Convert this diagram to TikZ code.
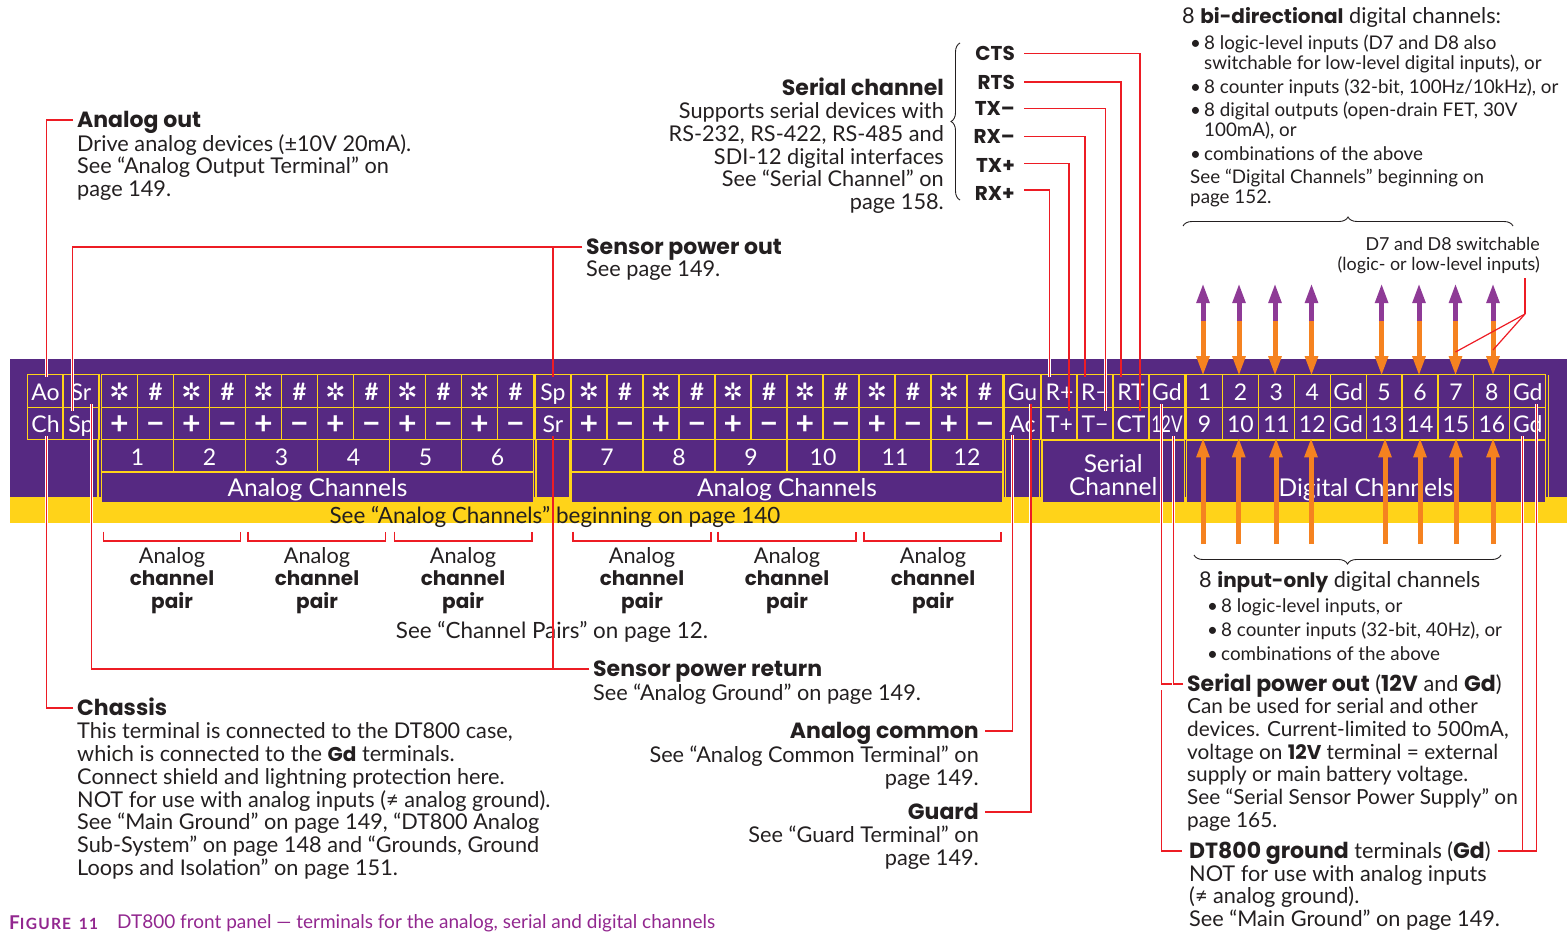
\documentclass[tikz,border=0pt]{standalone}
\usepackage{fontspec}
\setmainfont{Lato}
\newfontfamily\hdfont{Poppins}
\newfontfamily\symfont{DejaVu Sans}
\usetikzlibrary{arrows.meta, calc, decorations.pathreplacing}
\definecolor{panelpurple}{HTML}{562982}
\definecolor{panelyellow}{HTML}{FFD319}
\definecolor{leaderred}{HTML}{ED1C24}
\definecolor{arroworange}{HTML}{F58220}
\definecolor{arrowpurple}{HTML}{8E3A96}
\definecolor{inkdark}{HTML}{231F20}
\definecolor{capmagenta}{HTML}{92278F}
\newcommand{\txtsize}{\fontsize{21.7}{22.8}\selectfont}
\newcommand{\narrowsize}{\fontsize{20.8}{22.8}\selectfont}
\newcommand{\smallsize}{\fontsize{18.8}{20}\selectfont}
\newcommand{\capsize}{\fontsize{19}{20}\selectfont}
\newcommand{\hb}[1]{{\hdfont\bfseries\fontsize{20}{22.6}\selectfont #1}}
\newcommand{\hbb}[1]{{\hdfont\bfseries\fontsize{22}{22.6}\selectfont #1}}
\begin{document}
\begin{tikzpicture}[x=1pt, y=-1pt, text=inkdark,
        cell/.style={draw=panelyellow, fill=panelpurple, text=white, line width=1.1pt, inner sep=0pt,
            minimum width=36pt, minimum height=32.5pt, text height=18pt, text depth=0pt,
            font=\fontsize{23}{24}\selectfont},
        wide/.style={cell, minimum width=72pt},
        sym/.style={cell, font=\symfont\bfseries\fontsize{24}{24}\selectfont},
        sign/.style={cell, text height=21pt, font=\bfseries\fontsize{32}{24}\selectfont},
        chan/.style={cell, minimum width=432pt, minimum height=31pt, text height=20pt, text depth=3pt,
            font=\fontsize{24.5}{24}\selectfont},
        band/.style={draw=panelyellow, line width=1.1pt},
        leader/.style={draw=leaderred, line width=1.4pt,
            preaction={draw=white, line width=2.8pt}},
        bracket/.style={draw=leaderred, line width=1.1pt},
        hd/.style={anchor=west, inner ysep=0pt, inner xsep=4pt, text height=16pt, text depth=2pt, font=\txtsize},
        hdr/.style={hd, anchor=east, inner xsep=6pt},
        sig/.style={hdr, inner xsep=9pt},
        bodyl/.style={anchor=north west, align=left, inner sep=0pt, font=\txtsize,
            execute at begin node={\rule{0pt}{16pt}}},
        bodyr/.style={bodyl, anchor=north east, align=right},
        listtxt/.style={bodyl, font=\smallsize},
        panel/.style={text=white, inner sep=0pt, font=\fontsize{24.5}{23}\selectfont, align=center},
        pairlb/.style={anchor=north, align=center, inner sep=0pt, font=\txtsize,
            execute at begin node={\rule{0pt}{16pt}}},
        brc/.style={draw=inkdark, line width=0.9pt, decorate,
            decoration={brace, amplitude=9pt}},
        toparrow/.style={draw=arrowpurple, line width=5pt, -{Triangle[length=20pt, width=12pt]}},
        orangearrow/.style={draw=arroworange, line width=5pt, -{Triangle[length=20pt, width=12pt]}}]
    \useasboundingbox (0,0) rectangle (1567,932);
    % panel
    \fill[panelpurple] (10,359) rectangle (1567,496.6);
    \fill[panelyellow] (10,496.6) rectangle (1567,523);
    \draw[band] (98,440) -- (98,496.6);
    \draw[band] (536,440) -- (536,496.6);
    \draw[band] (570,440) -- (570,496.6);
    \draw[band] (1005.7,440) -- (1005.7,496.6);
    \draw[band] (1039.4,440) -- (1039.4,496.6);
    \draw[band] (1548.5,375) -- (1548.5,496.6);
    % single terminals
    \node[cell] (cAo) at (45.5,391) {Ao};
    \node[cell] (cCh) at (45.5,423.5) {Ch};
    \node[cell] (cSra) at (81,391) {Sr};
    \node[cell] (cSpa) at (81,423.5) {Sp};
    \node[cell] (cSpb) at (553,391) {Sp};
    \node[cell] (cSrb) at (553,423.5) {Sr};
    \node[cell] (cGu) at (1022.5,391) {Gu};
    \node[cell] (cAc) at (1022.5,423.5) {Ac};
    % analog channels
    \foreach \bl/\xs/\first in {L/101.5/0, R/571/6} {
        \foreach \k in {1,...,6} {
            \pgfmathsetmacro{\xa}{\xs+72*(\k-1)+18}
            \pgfmathsetmacro{\xb}{\xs+72*(\k-1)+54}
            \pgfmathsetmacro{\xc}{\xs+72*(\k-1)+36}
            \pgfmathtruncatemacro{\num}{\first+\k}
            \node[sym] (star\num) at (\xa,391) {✲};
            \node[cell, font=\bfseries\fontsize{24}{24}\selectfont] (hash\num) at (\xb,391) {\#};
            \node[sign] (plus\num) at (\xa,423.5) {+};
            \node[sign] (minus\num) at (\xb,423.5) {−};
            \node[wide] (num\num) at (\xc,456) {\num};
        }
    }
    \node[chan] (chanL) at (317.5,487.5) {Analog Channels};
    \node[chan] (chanR) at (787,487.5) {Analog Channels};
    % serial channel
    \node[cell] (cRp) at (1059.5,391) {R+};
    \node[cell] (cTp) at (1059.5,423.5) {T+};
    \node[cell] (cRm) at (1095,391) {R−};
    \node[cell] (cTm) at (1095,423.5) {T−};
    \node[cell] (cRT) at (1131,391) {RT};
    \node[cell] (cCT) at (1131,423.5) {CT};
    \node[cell] (cGdS) at (1167,391) {Gd};
    \node[cell] (c12V) at (1167,423.5) {\scalebox{0.74}[1]{12V}};
    \node[cell, minimum width=142.5pt, minimum height=63pt] (serBox) at (1113.2,471.5) {};
    \node[panel] (serLb) at (1113.2,475.5) {Serial\\Channel};
    % digital channels
    \foreach \k/\up/\dn in {0/1/9, 1/2/10, 2/3/11, 3/4/12, 4/Gd/Gd, 5/5/13, 6/6/14, 7/7/15, 8/8/16, 9/Gd/Gd} {
        \pgfmathsetmacro{\xa}{1204.5+35.92*\k}
        \node[cell] (dT\k) at (\xa,391) {\up};
        \node[cell] (dB\k) at (\xa,423.5) {\dn};
    }
    \node[cell, minimum width=359pt, minimum height=63pt] (digBox) at (1366,471.5) {};
    \node[panel] (digLb) at (1366,490) {Digital Channels};
    \node[inner sep=0pt, font=\fontsize{22.4}{23}\selectfont] (lbSee) at (555,516.5) {See “Analog Channels” beginning on page 140};
    % pair brackets
    \foreach \nm/\xa/\xb/\xc in {a/103.5/240.7/172, b/248/385.7/317, c/394.6/532/463, d/573/711/642, e/718/856/787, f/864/1001/933} {
        \draw[bracket] (\xa,531.7) -- (\xa,541) -- (\xb,541) -- (\xb,531.7);
        \node[pairlb] (pair\nm) at (\xc,547) {Analog\\\hb{channel}\\\hb{pair}};
    }
    \node[inner sep=0pt, font=\fontsize{22.4}{23}\selectfont] (lbPairs) at (552,631.5) {See “Channel Pairs” on page 12.};
    % left labels
    \node[hd] (hAo) at (73,120) {\hbb{Analog out}};
    \node[bodyl] (bAo) at (77,134) {Drive analog devices (±10V 20mA).\\See “Analog Output Terminal” on\\page 149.};
    \node[hd] (hSpo) at (582,247) {\hbb{Sensor power out}};
    \node[bodyl] (bSpo) at (586,260) {See page 149.};
    \node[hd] (hSpr) at (589,669) {\hbb{Sensor power return}};
    \node[bodyl] (bSpr) at (593,684) {See “Analog Ground” on page 149.};
    \node[hd] (hCh) at (73,708) {\hbb{Chassis}};
    \node[bodyl] (bCh) at (77,722.5) {This terminal is connected to the DT800 case,\\which is connected to the \hb{Gd} terminals.\\Connect shield and lightning protection here.\\NOT for use with analog inputs (≠ analog ground).\\See “Main Ground” on page 149, “DT800 Analog\\Sub-System” on page 148 and “Grounds, Ground\\Loops and Isolation” on page 151.};
    \node[hdr] (hAc) at (985,731) {\hbb{Analog common}};
    \node[bodyr] (bAc) at (979,746) {See “Analog Common Terminal” on\\page 149.};
    \node[hdr] (hGu) at (985,812) {\hbb{Guard}};
    \node[bodyr] (bGu) at (979,826) {See “Guard Terminal” on\\page 149.};
    % serial labels
    \node[hdr, inner xsep=0pt] (hSer) at (944,88) {\hbb{Serial channel}};
    \node[bodyr] (bSer) at (944,102.3) {Supports serial devices with\\RS-232, RS-422, RS-485 and\\SDI-12 digital interfaces\\See “Serial Channel” on\\page 158.};
    \draw[brc] (960,200) -- (960,43);
    \node[sig] (sCTS) at (1024,53.7) {\hb{CTS}};
    \node[sig] (sRTS) at (1024,82) {\hb{RTS}};
    \node[sig] (sTXm) at (1024,108.7) {\hb{TX–}};
    \node[sig] (sRXm) at (1024,136.7) {\hb{RX–}};
    \node[sig, text height=19pt] (sTXp) at (1024,163.5) {\hb{TX+}};
    \node[sig, text height=22pt] (sRXp) at (1024,190) {\hb{RX+}};
    % digital labels
    \node[bodyl] (hBi) at (1182,7) {8 \hb{bi-directional} digital channels:};
    \node[listtxt] (bBi) at (1190,34.5) {\makebox[14pt][l]{•}8 logic-level inputs (D7 and D8 also\\\hspace*{14pt}switchable for low-level digital inputs), or\\[4pt]\makebox[14pt][l]{•}8 counter inputs (32-bit, 100Hz/10kHz), or\\[3pt]\makebox[14pt][l]{•}8 digital outputs (open-drain FET, 30V\\\hspace*{14pt}100mA), or\\[4pt]\makebox[14pt][l]{•}combinations of the above\\[3pt]See “Digital Channels” beginning on\\page 152.};
    \draw[brc] (1183,226) -- (1513,226);
    \node[bodyr, font=\fontsize{17.9}{20}\selectfont] (lbSw) at (1540,237.5) {D7 and D8 switchable\\(logic- or low-level inputs)};
    \draw[brc] (1501,555) -- (1194,555);
    \node[bodyl] (hIn) at (1199,571) {8 \hb{input-only} digital channels};
    \node[listtxt, font=\fontsize{18.8}{24}\selectfont] (bIn) at (1207,598) {\makebox[14pt][l]{•}8 logic-level inputs, or\\\makebox[14pt][l]{•}8 counter inputs (32-bit, 40Hz), or\\\makebox[14pt][l]{•}combinations of the above};
    \node[hd] (hSo) at (1183,684) {\hbb{Serial power out} (\hbb{12V} and \hbb{Gd})};
    \node[bodyl, font=\narrowsize] (bSo) at (1187,698) {Can be used for serial and other\\devices. Current-limited to 500mA,\\voltage on \hb{12V} terminal = external\\supply or main battery voltage.\\See “Serial Sensor Power Supply” on\\page 165.};
    \node[hd, inner xsep=7pt] (hGr) at (1182,851) {\hbb{DT800 ground} terminals (\hbb{Gd})};
    \node[bodyl] (bGr) at (1189,865) {NOT for use with analog inputs\\(≠ analog ground).\\See “Main Ground” on page 149.};
    % caption
    \node[anchor=west, inner sep=0pt, text=capmagenta, font=\capsize] (capNo) at (9,923) {{\bfseries\addfontfeature{LetterSpace=8}\fontsize{19}{20}\selectfont F\fontsize{15.5}{20}\selectfont IGURE\hspace{0.5em}11}};
    \node[anchor=west, inner sep=0pt, text=capmagenta, font=\capsize] (capTx) at (117,923.5) {DT800 front panel — terminals for the analog, serial and digital channels};
    % leaders
    \coordinate (gdBreak) at (1161.7,690);
    \draw[leader] (hAo.west) -| ($(cAo.north)+(1,3)$);
    \draw[leader] (hSpo.west) -| ($(cSpa.north)+(-8.5,4.7)$);
    \draw[leader] (hSpo.west) -| ($(cSpb.north)+(0,3)$);
    \draw[leader] (hSpr.west) -| ($(cSra.south)+(10.5,-4.3)$);
    \draw[leader] (hSpr.west) -| ($(cSrb.south)+(0,-4)$);
    \draw[leader] (hCh.west) -| ($(cCh.south)+(1,-4)$);
    \draw[leader] (hAc.east) -| ($(cAc.south)+(-10,-5)$);
    \draw[leader] (hGu.east) -| ($(cGu.south)+(8.3,-4)$);
    \draw[leader] (sRXp.east) -| ($(cRp.north)+(-10,3)$);
    \draw[leader] (sTXp.east) -| ($(cTp.north)+(9.5,4)$);
    \draw[leader] (sRXm.east) -| ($(cRm.north)+(-10,3)$);
    \draw[leader] (sTXm.east) -| ($(cTm.north)+(10.6,4)$);
    \draw[leader] (sRTS.east) -| ($(cRT.north)+(-10,3)$);
    \draw[leader] (sCTS.east) -| ($(cCT.north)+(9,4)$);
    \draw[leader] (hSo.west) -| ($(cGdS.south)+(-5.3,-4)$);
    \draw[leader] (hSo.west) -| ($(c12V.south)+(6.3,-4)$);
    \draw[leader] (hGr.west) -| (gdBreak);
    \draw[leader] (hGr.east) -| ($(dB9.south)+(-5,-4)$);
    \draw[leader] (hGr.east) -| ($(dT9.south)+(9,-4)$);
    % arrows up and down
    \foreach \k/\xa in {0/1203, 1/1239, 2/1275, 3/1311.5, 5/1381.6, 6/1419, 7/1455.5, 8/1493} {
        \coordinate (mid\k) at (\xa,321);
        \coordinate (tip\k) at (\xa,283);
        \draw[toparrow] (mid\k) -- (tip\k);
        \draw[orangearrow, shorten >=-2pt] (mid\k) -- (mid\k |- dT\k.north);
    }
    \foreach \k/\xa in {0/1203, 1/1238.7, 2/1276, 3/1311, 5/1385, 6/1420, 7/1456, 8/1493} {
        \coordinate (foot\k) at (\xa,544);
        \draw[orangearrow, shorten >=-3pt] (foot\k) -- (foot\k |- dB\k.south);
    }
    % pointer to 7 and 8
    \coordinate (swKnee) at (1525,314);
    \coordinate (swTop) at (1525,278);
    \coordinate (swSeven) at (1455.5,352);
    \coordinate (swEight) at (1493,350);
    \draw[draw=leaderred, line width=1.2pt] (swKnee) -- (swSeven);
    \draw[draw=leaderred, line width=1.2pt] (swKnee) -- (swEight);
    \draw[draw=leaderred, line width=2pt] (swTop) -- (swKnee);
\end{tikzpicture}
\end{document}
